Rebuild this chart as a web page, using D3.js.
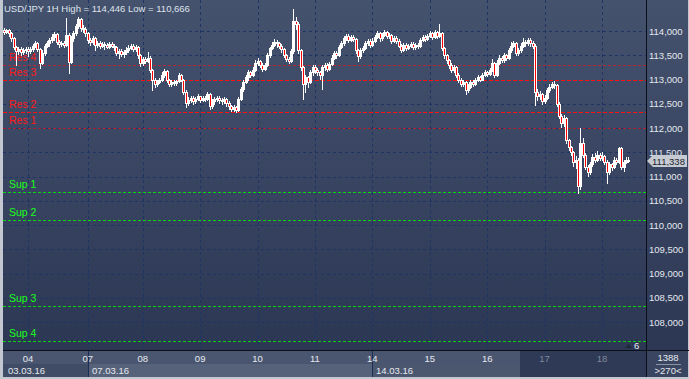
<!DOCTYPE html>
<html>
<head>
<meta charset="utf-8">
<script src="https://cdnjs.cloudflare.com/ajax/libs/d3/7.8.5/d3.min.js"></script>
<style>
body { margin: 0; background: #c3c7cf; }
svg { display: block; }
text { font-family: "Liberation Sans", Arial, sans-serif; }
</style>
</head>
<body>
<svg id="chart"></svg>
<script>
// USD/JPY hourly candles, 03.03.16 14:00 .. 18.03.16 11:00
var firstOpen = 114.02;
var closes = [
  113.98, 114.02, 113.95, 113.85, 113.66, 113.58, 113.62, 113.56, 113.60, 113.63,
  113.58, 113.62, 113.70, 113.76, 113.62, 113.35, 113.55, 113.70, 113.75, 113.82,
  113.88, 113.93, 113.78, 113.74, 113.76, 113.72, 113.92, 113.36, 113.85, 113.95,
  114.10, 114.24, 114.06, 114.05, 113.95, 113.82, 113.78, 113.85, 113.72, 113.76,
  113.70, 113.74, 113.72, 113.68, 113.74, 113.70, 113.66, 113.55, 113.58, 113.52,
  113.56, 113.60, 113.65, 113.70, 113.62, 113.68, 113.50, 113.33, 113.42, 113.38,
  113.45, 113.20, 113.00, 112.90, 112.95, 113.00, 113.10, 113.18, 112.98, 112.90,
  112.95, 112.92, 112.96, 113.10, 113.00, 112.75, 112.52, 112.58, 112.62, 112.55,
  112.60, 112.65, 112.58, 112.62, 112.60, 112.70, 112.45, 112.55, 112.60, 112.62,
  112.58, 112.55, 112.60, 112.52, 112.45, 112.40, 112.43, 112.38, 112.60, 112.80,
  112.95, 113.05, 113.15, 113.10, 113.20, 113.35, 113.38, 113.30, 113.22, 113.30,
  113.50, 113.65, 113.72, 113.78, 113.75, 113.70, 113.62, 113.50, 113.42, 113.38,
  113.58, 114.20, 114.15, 113.60, 113.25, 112.90, 113.05, 112.95, 113.15, 113.25,
  113.20, 113.15, 113.10, 113.25, 113.30, 113.22, 113.32, 113.45, 113.55, 113.50,
  113.68, 113.75, 113.85, 113.90, 113.82, 113.88, 113.84, 113.60, 113.48, 113.60,
  113.65, 113.75, 113.80, 113.72, 113.80, 113.88, 113.95, 113.85, 113.92, 113.98,
  113.90, 113.92, 113.80, 113.86, 113.80, 113.70, 113.60, 113.72, 113.65, 113.70,
  113.74, 113.66, 113.72, 113.70, 113.82, 113.88, 113.84, 113.90, 113.95, 113.88,
  113.98, 113.90, 113.95, 113.65, 113.50, 113.40, 113.30, 113.20, 113.25, 113.10,
  113.00, 112.90, 112.95, 112.78, 112.85, 112.95, 112.90, 113.00, 113.05, 113.00,
  113.10, 113.15, 113.12, 113.20, 113.35, 113.10, 113.35, 113.45, 113.40, 113.50,
  113.45, 113.60, 113.70, 113.75, 113.55, 113.60, 113.70, 113.78, 113.75, 113.82,
  113.75, 113.70, 112.75, 112.65, 112.70, 112.55, 112.62, 112.78, 112.85, 112.90,
  112.88, 112.50, 112.25, 112.10, 112.20, 111.75, 111.60, 111.50, 111.30, 111.35,
  110.80, 111.70, 111.45, 111.20, 111.10, 111.25, 111.40, 111.35, 111.45, 111.38,
  111.42, 111.30, 111.10, 111.25, 111.20, 111.35, 111.30, 111.58, 111.20, 111.30,
  111.35, 111.338
];
var highs = [
  114.06, 114.05, 114.04, 113.97, 113.88, 113.70, 113.66, 113.66, 113.65, 113.68,
  113.66, 113.66, 113.74, 113.80, 113.78, 113.64, 113.60, 113.74, 113.80, 113.86,
  113.94, 113.97, 113.95, 113.82, 113.80, 113.79, 114.27, 113.95, 113.90, 114.00,
  114.14, 114.28, 114.26, 114.12, 114.08, 113.98, 113.86, 113.90, 113.88, 113.80,
  113.79, 113.78, 113.77, 113.76, 113.78, 113.77, 113.74, 113.69, 113.63, 113.62,
  113.60, 113.66, 113.72, 113.74, 113.73, 113.72, 113.70, 113.53, 113.47, 113.46,
  113.56, 113.48, 113.22, 113.04, 113.00, 113.04, 113.15, 113.22, 113.20, 113.02,
  112.99, 112.98, 113.00, 113.14, 113.12, 113.02, 112.78, 112.64, 112.66, 112.65,
  112.64, 112.70, 112.67, 112.66, 112.65, 112.74, 112.72, 112.60, 112.64, 112.67,
  112.65, 112.61, 112.64, 112.62, 112.55, 112.48, 112.47, 112.46, 112.64, 112.84,
  113.00, 113.10, 113.19, 113.18, 113.26, 113.40, 113.44, 113.41, 113.33, 113.34,
  113.55, 113.68, 113.77, 113.83, 113.81, 113.78, 113.73, 113.65, 113.53, 113.46,
  113.62, 114.446, 114.28, 114.18, 113.63, 113.28, 113.10, 113.08, 113.20, 113.30,
  113.29, 113.24, 113.18, 113.30, 113.35, 113.33, 113.36, 113.50, 113.59, 113.58,
  113.72, 113.80, 113.90, 113.94, 113.93, 113.92, 113.91, 113.86, 113.63, 113.64,
  113.70, 113.79, 113.84, 113.83, 113.85, 113.92, 113.99, 113.97, 113.96, 114.02,
  114.00, 113.96, 113.94, 113.90, 113.89, 113.83, 113.73, 113.76, 113.75, 113.74,
  113.78, 113.77, 113.76, 113.75, 113.86, 113.92, 113.91, 113.94, 114.00, 113.97,
  114.02, 114.00, 114.15, 113.97, 113.68, 113.53, 113.43, 113.33, 113.30, 113.28,
  113.13, 113.03, 113.00, 112.97, 112.90, 113.00, 112.98, 113.04, 113.09, 113.08,
  113.14, 113.20, 113.18, 113.24, 113.42, 113.37, 113.40, 113.50, 113.48, 113.55,
  113.53, 113.64, 113.78, 113.80, 113.77, 113.65, 113.75, 113.85, 113.82, 113.86,
  113.85, 113.79, 113.73, 112.80, 112.76, 112.73, 112.68, 112.82, 112.90, 112.95,
  112.96, 112.90, 112.53, 112.28, 112.26, 112.22, 111.78, 111.63, 111.53, 111.42,
  111.38, 112.00, 111.80, 111.48, 111.24, 111.30, 111.46, 111.48, 111.52, 111.48,
  111.50, 111.45, 111.33, 111.30, 111.28, 111.40, 111.38, 111.60, 111.60, 111.34,
  111.40, 111.40
];
var lows = [
  113.94, 113.95, 113.90, 113.80, 113.62, 113.30, 113.52, 113.50, 113.52, 113.55,
  113.48, 113.55, 113.58, 113.66, 113.58, 113.24, 113.32, 113.50, 113.66, 113.70,
  113.78, 113.82, 113.74, 113.68, 113.70, 113.66, 113.70, 113.13, 113.33, 113.80,
  113.92, 114.06, 114.00, 113.98, 113.90, 113.76, 113.72, 113.74, 113.60, 113.66,
  113.64, 113.67, 113.62, 113.64, 113.65, 113.66, 113.60, 113.50, 113.44, 113.48,
  113.47, 113.53, 113.56, 113.62, 113.58, 113.58, 113.45, 113.28, 113.30, 113.34,
  113.36, 113.16, 112.78, 112.84, 112.86, 112.92, 112.97, 113.06, 112.94, 112.86,
  112.86, 112.88, 112.89, 112.94, 112.96, 112.70, 112.43, 112.48, 112.54, 112.50,
  112.52, 112.57, 112.53, 112.55, 112.55, 112.57, 112.40, 112.42, 112.50, 112.56,
  112.52, 112.50, 112.52, 112.46, 112.40, 112.35, 112.36, 112.33, 112.36, 112.57,
  112.76, 112.92, 113.00, 113.05, 113.07, 113.17, 113.30, 113.26, 113.18, 113.20,
  113.28, 113.47, 113.62, 113.70, 113.68, 113.65, 113.57, 113.46, 113.38, 113.34,
  113.36, 113.55, 114.05, 113.55, 113.20, 112.60, 112.75, 112.85, 112.92, 113.10,
  113.14, 113.10, 113.02, 112.80, 113.20, 113.18, 113.19, 113.30, 113.42, 113.45,
  113.48, 113.65, 113.72, 113.82, 113.78, 113.79, 113.80, 113.55, 113.38, 113.45,
  113.56, 113.62, 113.72, 113.68, 113.70, 113.77, 113.85, 113.80, 113.82, 113.89,
  113.86, 113.85, 113.76, 113.77, 113.75, 113.66, 113.56, 113.58, 113.61, 113.62,
  113.67, 113.62, 113.63, 113.65, 113.68, 113.79, 113.80, 113.81, 113.87, 113.84,
  113.86, 113.86, 113.88, 113.60, 113.45, 113.35, 113.24, 113.15, 113.16, 113.05,
  112.95, 112.86, 112.87, 112.70, 112.75, 112.82, 112.86, 112.88, 112.97, 112.96,
  112.98, 113.07, 113.08, 113.09, 113.17, 113.06, 113.08, 113.32, 113.36, 113.37,
  113.41, 113.43, 113.57, 113.67, 113.51, 113.50, 113.57, 113.67, 113.70, 113.72,
  113.70, 113.64, 112.47, 112.58, 112.60, 112.50, 112.52, 112.60, 112.75, 112.82,
  112.83, 112.45, 112.20, 112.03, 112.05, 111.70, 111.55, 111.44, 111.22, 111.18,
  110.666, 110.75, 111.40, 111.15, 111.02, 111.05, 111.22, 111.30, 111.32, 111.33,
  111.35, 111.25, 110.87, 111.05, 111.14, 111.17, 111.25, 111.27, 111.15, 111.12,
  111.27, 111.29
];

var dayLabels = ["04", "07", "08", "09", "10", "11", "14", "15", "16", "17", "18"];
var dayStart = [10, 35, 58, 82, 106, 130, 154, 178, 202, 226, 250];
var weekLabels = ["03.03.16", "07.03.16", "14.03.16"];
var weekStart = [0, 35, 154];

var priceTicks = [108, 108.5, 109, 109.5, 110, 110.5, 111, 111.5, 112, 112.5, 113, 113.5, 114];

var levelNames = ["Res 4", "Res 3", "Res 2", "Res 1", "Sup 1", "Sup 2", "Sup 3", "Sup 4"];
var levelValues = [113.30, 112.98, 112.32, 112.01, 110.675, 110.097, 108.34, 107.61];

var title = "USD/JPY 1H High = 114,446 Low = 110,666";
var barsInfo = ["1388", ">270<"];

var width = 689;
var height = 379;
var plotLeft = 3;
var plotRight = 646;
var plotBottom = 350;

var svg = d3.select("#chart")
    .attr("width", width)
    .attr("height", height);

var grad = svg.append("defs").append("linearGradient")
    .attr("id", "bg")
    .attr("x1", 0).attr("y1", 0).attr("x2", 0).attr("y2", 1);
grad.append("stop").attr("offset", "0%").attr("stop-color", "#45526e");
grad.append("stop").attr("offset", "100%").attr("stop-color", "#2c3754");

var xScale = d3.scaleLinear()
    .domain([0, closes.length - 1])
    .range([4, 628.3]);

var yScale = d3.scaleLinear()
    .domain([114, 108])
    .range([31, 322]);

var ru = d3.formatLocale({decimal: ",", thousands: ".", grouping: [3], currency: ["", ""]});
var fmt = ru.format(".3f");

// panels
svg.append("rect").attr("x", plotLeft).attr("y", 0)
    .attr("width", plotRight - plotLeft).attr("height", plotBottom)
    .attr("fill", "url(#bg)");
svg.append("rect").attr("x", plotRight + 1).attr("y", 0)
    .attr("width", width - plotRight - 2).attr("height", plotBottom)
    .attr("fill", "url(#bg)");

// time axis background
svg.append("rect").attr("x", plotLeft).attr("y", plotBottom + 1)
    .attr("width", plotRight - plotLeft).attr("height", 13).attr("fill", "#4a5670");
var weekColors = ["#404c65", "#56627a", "#4b576f"];
weekStart.forEach(function(s, i) {
  var x0 = i === 0 ? plotLeft : Math.round(xScale(s));
  var x1 = i < weekStart.length - 1 ? Math.round(xScale(weekStart[i + 1])) : plotRight;
  svg.append("rect").attr("x", x0).attr("y", plotBottom + 14)
      .attr("width", x1 - x0).attr("height", 13).attr("fill", weekColors[i]);
});
svg.append("rect").attr("x", 520).attr("y", plotBottom + 1)
    .attr("width", plotRight - 520).attr("height", 26).attr("fill", "#2f3a56");
svg.append("rect").attr("x", plotRight + 1).attr("y", plotBottom + 1)
    .attr("width", width - plotRight - 2).attr("height", 26).attr("fill", "#3a4661");

// grid
svg.append("g").selectAll("line")
    .data(priceTicks)
    .enter().append("line")
    .attr("x1", plotLeft).attr("x2", plotRight)
    .attr("y1", function(d) { return Math.round(yScale(d)) + 0.5; })
    .attr("y2", function(d) { return Math.round(yScale(d)) + 0.5; })
    .attr("stroke", "#1d3465")
    .attr("stroke-dasharray", "3,3");

svg.append("g").selectAll("line")
    .data(dayStart)
    .enter().append("line")
    .attr("x1", function(d) { return Math.round(xScale(d)) + 0.5; })
    .attr("x2", function(d) { return Math.round(xScale(d)) + 0.5; })
    .attr("y1", 0).attr("y2", plotBottom)
    .attr("stroke", "#1d3465")
    .attr("stroke-dasharray", "3,3");

// support / resistance lines
var levels = levelNames.map(function(n, i) { return {name: n, value: levelValues[i]}; });
function strong(d) { return d.name === "Res 2" || d.name === "Res 3"; }

svg.append("g").selectAll("line")
    .data(levels)
    .enter().append("line")
    .attr("x1", plotLeft).attr("x2", plotRight)
    .attr("y1", function(d) { return Math.round(yScale(d.value)) + 0.5; })
    .attr("y2", function(d) { return Math.round(yScale(d.value)) + 0.5; })
    .attr("stroke", function(d) { return d.name.indexOf("Res") === 0 ? "#ff1010" : "#00ee00"; })
    .attr("stroke-opacity", function(d) {
      if (d.name.indexOf("Sup") === 0) return 0.85;
      return strong(d) ? 1 : 0.6;
    })
    .attr("stroke-dasharray", function(d) { return strong(d) ? "4,2" : "3,2"; });

svg.append("g").selectAll("text")
    .data(levels)
    .enter().append("text")
    .attr("x", 9)
    .attr("y", function(d) { return yScale(d.value) - 4; })
    .attr("font-size", "10.5px")
    .attr("fill", function(d) { return d.name.indexOf("Res") === 0 ? "#ff1a1a" : "#1aff1a"; })
    .text(function(d) { return d.name; });

// candles
var candles = closes.map(function(c, i) {
  return {i: i, o: i === 0 ? firstOpen : closes[i - 1], h: highs[i], l: lows[i], c: c};
});

var cg = svg.append("g");
cg.selectAll("line")
    .data(candles)
    .enter().append("line")
    .attr("x1", function(d) { return Math.round(xScale(d.i)) + 0.5; })
    .attr("x2", function(d) { return Math.round(xScale(d.i)) + 0.5; })
    .attr("y1", function(d) { return Math.round(yScale(d.h)); })
    .attr("y2", function(d) { return Math.round(yScale(d.l)) + 1; })
    .attr("stroke", "#ffffff");

cg.selectAll("rect")
    .data(candles)
    .enter().append("rect")
    .attr("x", function(d) { return Math.round(xScale(d.i)) - 0.5; })
    .attr("y", function(d) { return Math.round(yScale(Math.max(d.o, d.c))) + 0.5; })
    .attr("width", 2)
    .attr("height", function(d) {
      var h = Math.round(yScale(Math.min(d.o, d.c))) - Math.round(yScale(Math.max(d.o, d.c)));
      return Math.max(h, 1);
    })
    .attr("fill", function(d) { return d.c < d.o ? "#ff0000" : "none"; })
    .attr("stroke", "#ffffff");

// frame lines
svg.append("line").attr("x1", plotLeft).attr("x2", width)
    .attr("y1", plotBottom + 0.5).attr("y2", plotBottom + 0.5).attr("stroke", "#0b0f18");
svg.append("line").attr("x1", plotRight + 0.5).attr("x2", plotRight + 0.5)
    .attr("y1", 0).attr("y2", height - 2).attr("stroke", "#0b0f18");

// price axis labels
svg.append("g").selectAll("text")
    .data(priceTicks)
    .enter().append("text")
    .attr("x", 649)
    .attr("y", function(d) { return yScale(d) + 3.5; })
    .attr("font-size", "9.5px")
    .attr("fill", "#e4e8ef")
    .text(function(d) { return fmt(d); });

// last price tag
var last = closes[closes.length - 1];
var ly = Math.round(yScale(last)) + 1;
svg.append("path")
    .attr("d", "M647," + ly + " L653," + (ly - 6) + " L687," + (ly - 6) + " L687," + (ly + 6) + " L653," + (ly + 6) + " Z")
    .attr("fill", "#c6cad2");
svg.append("text")
    .attr("x", 652).attr("y", ly + 3.5)
    .attr("font-size", "9.5px")
    .attr("fill", "#1b1f2a")
    .text(fmt(last));

// time axis labels
svg.append("g").selectAll("line")
    .data(weekStart.slice(1))
    .enter().append("line")
    .attr("x1", function(d) { return Math.round(xScale(d)) + 0.5; })
    .attr("x2", function(d) { return Math.round(xScale(d)) + 0.5; })
    .attr("y1", plotBottom + 1).attr("y2", height - 2)
    .attr("stroke", "#1c2d56");

svg.append("g").selectAll("text")
    .data(dayLabels)
    .enter().append("text")
    .attr("x", function(d, i) { return xScale(dayStart[i]); })
    .attr("y", 362)
    .attr("text-anchor", "middle")
    .attr("font-size", "9.5px")
    .attr("fill", function(d, i) { return xScale(dayStart[i]) > 520 ? "#7f889b" : "#e6e9ef"; })
    .text(function(d) { return d; });

svg.append("g").selectAll("text")
    .data(weekLabels)
    .enter().append("text")
    .attr("x", function(d, i) { return i === 0 ? 8 : Math.round(xScale(weekStart[i])) + 4; })
    .attr("y", 374)
    .attr("font-size", "9.5px")
    .attr("fill", "#e6e9ef")
    .text(function(d) { return d; });

// bars info box
svg.append("text").attr("x", 668).attr("y", 361).attr("text-anchor", "middle")
    .attr("font-size", "9.5px").attr("fill", "#e6e9ef").text(barsInfo[0]);
svg.append("line").attr("x1", 656).attr("x2", 681).attr("y1", 364.5).attr("y2", 364.5)
    .attr("stroke", "#8a93a6");
svg.append("text").attr("x", 668).attr("y", 374).attr("text-anchor", "middle")
    .attr("font-size", "9.5px").attr("fill", "#e6e9ef").text(barsInfo[1]);

// scroll marker
svg.append("path").attr("d", "M625,348 L628.5,344 L632,348 Z").attr("fill", "#202838");
svg.append("text").attr("x", 634).attr("y", 348.5)
    .attr("font-size", "9.5px").attr("fill", "#e6e9ef").text("6");

// title
svg.append("text").attr("x", 4).attr("y", 12)
    .attr("font-size", "9.5px").attr("fill", "#dfe3ea")
    .text(title);
</script>
</body>
</html>
